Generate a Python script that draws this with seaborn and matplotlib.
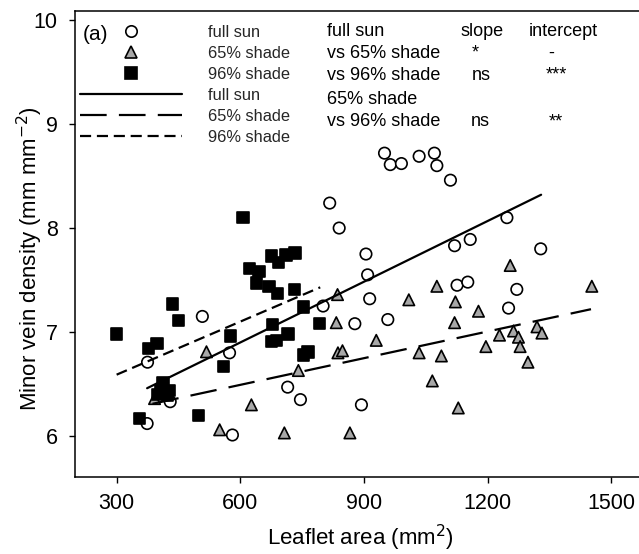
import matplotlib
matplotlib.use("Agg")
import matplotlib.pyplot as plt
from matplotlib.lines import Line2D
import seaborn as sns
import pandas as pd
import numpy as np

# ---------------- data ----------------
groups = ["full sun", "65% shade", "96% shade"]

sun_x = [817, 840, 508, 375, 574, 801, 715, 746, 430, 374, 581, 878, 950, 964, 991,
         1034, 1071, 1077, 1110, 1247, 1120, 1158, 1329, 905, 909, 1126, 1152, 1271,
         1251, 914, 958, 894]
sun_y = [8.24, 8.00, 7.15, 6.71, 6.80, 7.25, 6.47, 6.35, 6.33, 6.12, 6.01, 7.08, 8.72,
         8.61, 8.62, 8.69, 8.72, 8.60, 8.46, 8.10, 7.83, 7.89, 7.80, 7.75, 7.55, 7.45,
         7.48, 7.41, 7.23, 7.32, 7.12, 6.30]

shade65_x = [836, 833, 518, 837, 848, 741, 392, 627, 550, 707, 866, 1077, 1009, 1122,
             1178, 1255, 1453, 1120, 930, 1034, 1088, 1229, 1263, 1275, 1279, 1320, 1332,
             1196, 1298, 1066, 1129]
shade65_y = [7.36, 7.09, 6.81, 6.80, 6.82, 6.63, 6.36, 6.30, 6.06, 6.03, 6.03, 7.44, 7.31,
             7.29, 7.20, 7.64, 7.44, 7.09, 6.92, 6.80, 6.77, 6.97, 7.01, 6.95, 6.86, 7.05,
             6.99, 6.86, 6.71, 6.53, 6.27]

shade96_x = [607, 676, 711, 733, 693, 623, 645, 639, 670, 690, 731, 435, 753, 450, 300,
             678, 792, 576, 716, 688, 676, 378, 398, 764, 753, 559, 412, 408, 428, 400,
             424, 355, 498]
shade96_y = [8.10, 7.73, 7.74, 7.76, 7.67, 7.61, 7.58, 7.47, 7.44, 7.37, 7.41, 7.27, 7.24,
             7.11, 6.98, 7.07, 7.08, 6.96, 6.98, 6.92, 6.91, 6.84, 6.89, 6.81, 6.78, 6.67,
             6.51, 6.44, 6.44, 6.40, 6.39, 6.17, 6.20]

# fitted regression lines (slope, intercept, x-range)
fit_slope = [0.001946, 0.000855, 0.00170]
fit_intercept = [5.732, 5.979, 6.080]
fit_xmin = [374, 387, 300]
fit_xmax = [1330, 1451, 794]

x_ticks = [300, 600, 900, 1200, 1500]
y_ticks = [6, 7, 8, 9, 10]

# significance table
table_rows = ["full sun", "vs 65% shade", "vs 96% shade", "65% shade", "vs 96% shade"]
slope_sig = ["slope", "*", "ns", "", "ns"]
intercept_sig = ["intercept", "-", "***", "", "**"]

# ---------------- build frames ----------------
pts = pd.DataFrame({
    "area": sun_x + shade65_x + shade96_x,
    "density": sun_y + shade65_y + shade96_y,
    "group": (["full sun"] * len(sun_x) + ["65% shade"] * len(shade65_x)
              + ["96% shade"] * len(shade96_x)),
})
fit_rows = []
for g, m, b, x0, x1 in zip(groups, fit_slope, fit_intercept, fit_xmin, fit_xmax):
    for xv in (x0, x1):
        fit_rows.append({"area": xv, "density": b + m * xv, "group": g})
fits = pd.DataFrame(fit_rows)

# ---------------- styling ----------------
W, H = 639, 554
sns.set_theme(style="ticks")
plt.rcParams["font.family"] = ["Liberation Sans", "DejaVu Sans"]

fig = plt.figure(figsize=(W / 100, H / 100), dpi=100)
ax = fig.add_axes([75 / W, 1 - 477 / H, (W - 75) / W + 0.01, (477 - 11) / H])

face = {"full sun": "white", "65% shade": "#a8a8a8", "96% shade": "black"}
marks = {"full sun": "o", "65% shade": "^", "96% shade": "s"}
dash_map = {"full sun": "", "65% shade": (12, 5.5), "96% shade": (5, 2.6)}

sns.scatterplot(data=pts, x="area", y="density", hue="group", style="group",
                palette=face, markers=marks, s=68, edgecolor="black",
                linewidth=1.2, legend=False, ax=ax, zorder=3)
sns.lineplot(data=fits, x="area", y="density", style="group", dashes=dash_map,
             color="black", linewidth=1.6, legend=False, ax=ax, zorder=4,
             estimator=None, sort=False)

ax.set_xlim(199, 1583)
ax.set_ylim(5.606, 10.087)
ax.set_xticks(x_ticks)
ax.set_yticks(y_ticks)
for side in ["left", "bottom", "top"]:
    ax.spines[side].set_linewidth(1.1)
    ax.spines[side].set_color("black")
ax.spines["right"].set_visible(False)
ax.tick_params(direction="out", length=4.5, width=1.0, colors="black",
               labelsize=15.5)
ax.tick_params(axis="y", pad=8)
ax.tick_params(axis="x", pad=7)
ax.set_xlabel("Leaflet area (mm$^2$)", fontsize=16, color="black", labelpad=6)
ax.set_ylabel("Minor vein density (mm mm$^{-2}$)", fontsize=16, color="black")
ax.yaxis.set_label_coords(-0.053, 0.468)

# ---------------- legend ----------------
handles = [
    Line2D([], [], marker="o", ls="none", ms=8.2, mfc="white", mec="black", mew=1.2),
    Line2D([], [], marker="^", ls="none", ms=8.2, mfc="#a8a8a8", mec="black", mew=1.2),
    Line2D([], [], marker="s", ls="none", ms=8.2, mfc="black", mec="black", mew=1.2),
    Line2D([], [], color="black", lw=1.6),
    Line2D([], [], color="black", lw=1.6, dashes=(12, 5.5)),
    Line2D([], [], color="black", lw=1.6, dashes=(5, 2.6)),
]
leg_labels = groups + groups
fs_leg = 11.75
ax.legend(handles, leg_labels, loc="upper left", frameon=False,
          bbox_to_anchor=(80 / W, 1 - 25 / H), bbox_transform=fig.transFigure,
          fontsize=fs_leg, handlelength=102 / 16.3, handletextpad=26 / 16.3,
          borderpad=0, borderaxespad=0, labelspacing=0.37, numpoints=1)

def ftxt(x, y, s, **kw):
    fig.text(x / W, 1 - y / H, s, transform=fig.transFigure, color="black", **kw)

ftxt(95, 34, "(a)", fontsize=15, ha="center", va="center")

row_y = [31, 53, 75, 100, 122]
for yy, lab, sl, ic in zip(row_y, table_rows, slope_sig, intercept_sig):
    ftxt(327, yy, lab, fontsize=13, ha="left", va="center")
sig_cells = [(482, 31, "slope"), (563, 31, "intercept"),
             (475, 53, "*"), (551, 53, "-"),
             (481, 75, "ns"), (556, 75, "***"),
             (480, 122, "ns"), (556, 122, "**")]
for xx, yy, s in sig_cells:
    ftxt(xx, yy, s, fontsize=13, ha="center", va="center")

fig.savefig("out.png", dpi=100)
